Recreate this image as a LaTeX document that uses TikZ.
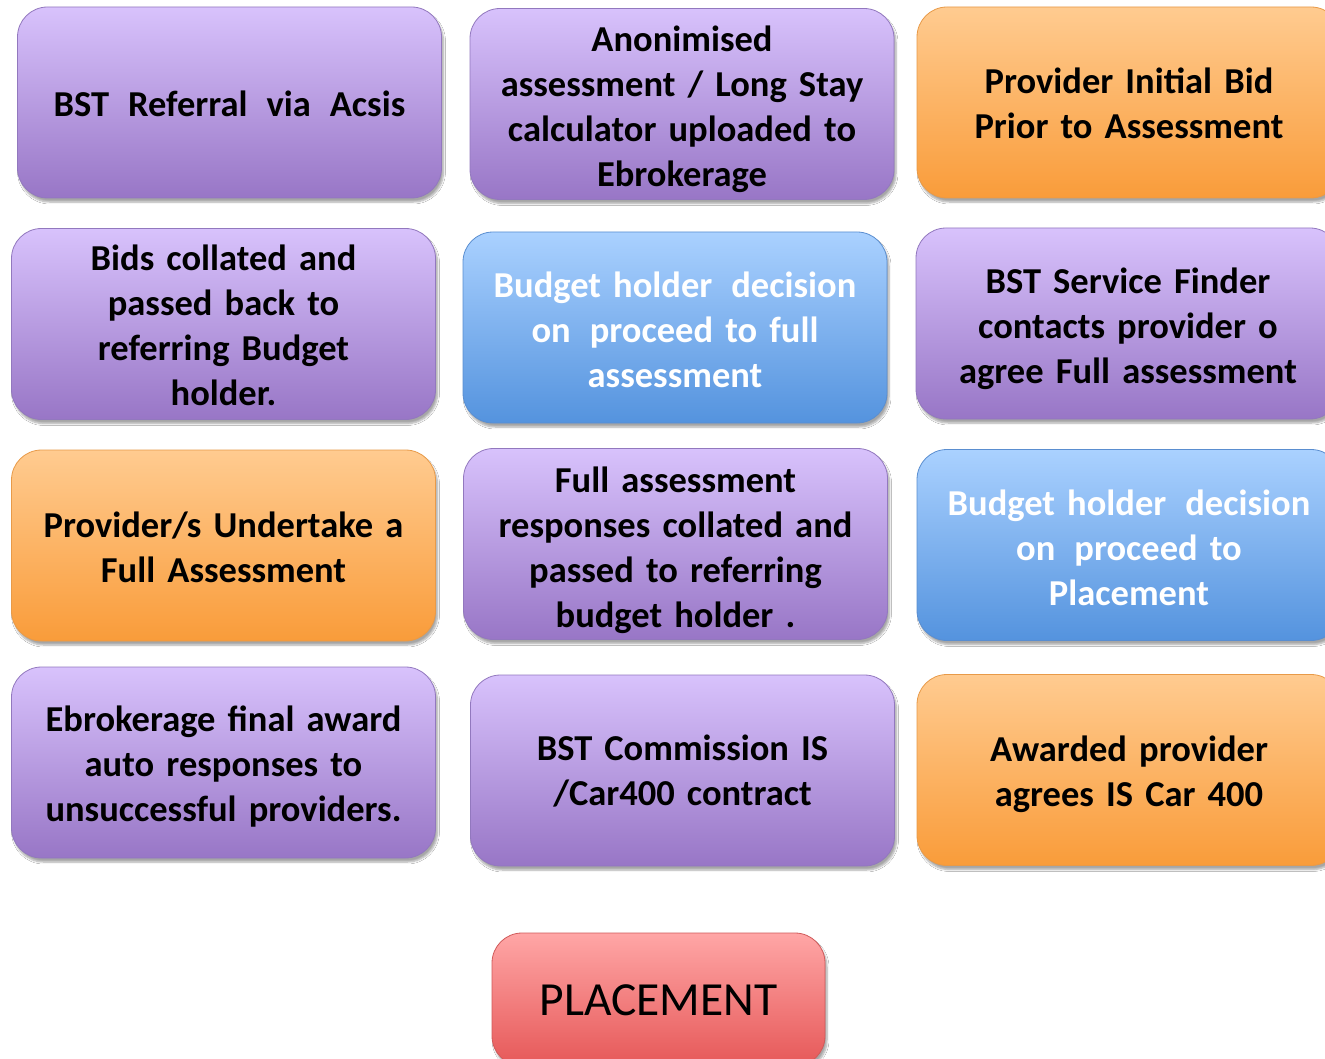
\documentclass[tikz,border=0pt]{standalone}
\usepackage{fontspec}
\setmainfont{Carlito}
\usetikzlibrary{shadows.blur}
\definecolor{pTop}{HTML}{D8C2FC}
\definecolor{pBot}{HTML}{9876C6}
\definecolor{pEdge}{HTML}{9278BE}
\definecolor{oTop}{HTML}{FFCB90}
\definecolor{oBot}{HTML}{F99C3A}
\definecolor{oEdge}{HTML}{E89A48}
\definecolor{bTop}{HTML}{AAD1FF}
\definecolor{bBot}{HTML}{5493DE}
\definecolor{bEdge}{HTML}{5A8ED0}
\definecolor{rTop}{HTML}{FFA6A6}
\definecolor{rBot}{HTML}{E65858}
\definecolor{rEdge}{HTML}{D05A5A}
\newcommand{\ws}{\hspace{19pt}}
\tikzset{
  box/.style={rounded corners=30pt, minimum width=424pt, minimum height=191pt,
    inner sep=0pt, line width=0.8pt,
    blur shadow={shadow blur steps=6, shadow xshift=2pt, shadow yshift=-4pt, shadow opacity=35}},
  purple/.style={box, top color=pTop, bottom color=pBot, draw=pEdge},
  orange/.style={box, top color=oTop, bottom color=oBot, draw=oEdge},
  blue/.style={box, top color=bTop, bottom color=bBot, draw=bEdge},
  red/.style={box, top color=rTop, bottom color=rBot, draw=rEdge,
    minimum width=333pt, minimum height=133pt},
  txt/.style={align=center, inner sep=0pt, text width=410pt,
    font=\bfseries\fontsize{36.5}{45}\selectfont},
  wtxt/.style={txt, text=white},
  bigtxt/.style={align=center, inner sep=0pt, font=\fontsize{47.5}{56}\selectfont}
}
\begin{document}
\begin{tikzpicture}[x=1pt,y=-1pt]
\clip (0,0) rectangle (1325,1059);
\fill[white] (0,0) rectangle (1325,1059);
\node[purple] (a) at (229.5,102.5) {};
\node[purple] (b) at (682,104) {};
\node[orange] (c) at (1129,102.5) {};
\node[purple] (d) at (223.5,324) {};
\node[blue] (e) at (675,327.5) {};
\node[purple] (f) at (1128,323.5) {};
\node[orange] (g) at (223.5,545.5) {};
\node[purple] (h) at (675.5,544) {};
\node[blue] (i) at (1129,545) {};
\node[purple] (j) at (223.5,762.5) {};
\node[purple] (k) at (682.5,770.5) {};
\node[orange] (l) at (1129,770) {};
\node[red] (p) at (658.5,999.5) {};
\node[txt] (at) at ([yshift=-1pt]a.center) {BST\ws Referral\ws via\ws Acsis};
\node[txt] (bt) at ([yshift=-5pt]b.center) {Anonimised\\assessment / Long Stay\\calculator uploaded to\\Ebrokerage};
\node[txt] (ct) at ([yshift=-1pt]c.center) {Provider Initial Bid\\Prior to Assessment};
\node[txt] (dt) at ([yshift=-1pt]d.center) {Bids collated and\\passed back to\\referring Budget\\holder.};
\node[wtxt] (et) at ([yshift=-2pt]e.center) {Budget holder\ws decision\\on\ws proceed to full\\assessment};
\node[txt] (ft) at ([yshift=-5pt]f.center) {BST Service Finder\\contacts provider o\\agree Full assessment};
\node[txt] (gt) at ([yshift=-2pt]g.center) {Provider/s Undertake a\\Full Assessment};
\node[txt] (ht) at ([yshift=-6pt]h.center) {Full assessment\\responses collated and\\passed to referring\\budget holder .};
\node[wtxt] (it) at ([yshift=-3pt]i.center) {Budget holder\ws decision\\on\ws proceed to\\Placement};
\node[txt] (jt) at ([yshift=-4pt]j.center) {Ebrokerage final award\\auto responses to\\unsuccessful providers.};
\node[txt] (kt) at ([yshift=-1pt]k.center) {BST Commission IS\\/Car400 contract};
\node[txt] (lt) at ([yshift=-4pt]l.center) {Awarded provider\\agrees IS Car 400};
\node[bigtxt] (pt) at ([yshift=-1pt]p.center) {PLACEMENT};
\end{tikzpicture}
\end{document}
